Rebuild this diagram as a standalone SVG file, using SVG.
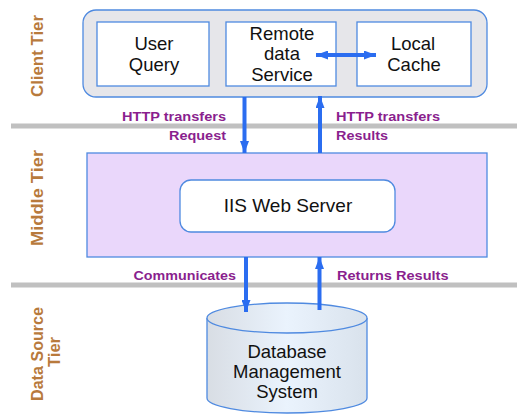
<svg xmlns="http://www.w3.org/2000/svg" width="517" height="419" viewBox="0 0 517 419">
<defs>
<style>
.box{fill:#ffffff;stroke:#4f8ae0;stroke-width:1.3}
.t{font-family:"Liberation Sans",Arial,sans-serif;font-size:18.5px;fill:#111;text-anchor:middle}
.lbl{font-family:"Liberation Sans",Arial,sans-serif;font-size:12px;font-weight:bold;fill:#8a1f8e}
.tier{font-family:"Liberation Sans",Arial,sans-serif;font-size:17px;font-weight:bold;fill:#b87a3c;text-anchor:middle}
.sep{stroke:#c0c0c0;stroke-width:5}
.arr{stroke:#2b6df0;stroke-width:4;fill:none}
</style>
<marker id="ah" viewBox="0 0 12 9" refX="12" refY="4.5" markerWidth="3" markerHeight="2.25" markerUnits="strokeWidth" orient="auto-start-reverse">
<path d="M0,0 L12,4.5 L0,9 z" fill="#2b6df0"/>
</marker>
<linearGradient id="cyl" x1="0" x2="1" y1="0" y2="0">
<stop offset="0" stop-color="#d8dde4"/>
<stop offset="0.5" stop-color="#eaf3fd"/>
<stop offset="1" stop-color="#d9e2ec"/>
</linearGradient>
</defs>
<rect width="517" height="419" fill="#ffffff"/>
<g id="separators">
<line class="sep" x1="11" y1="126" x2="517" y2="126"/>
<line class="sep" x1="11" y1="285" x2="517" y2="285"/>
</g>
<g id="tier-labels">
<text class="tier" transform="translate(43,56) rotate(-90)" textLength="82" lengthAdjust="spacingAndGlyphs">Client Tier</text>
<text class="tier" transform="translate(43,198) rotate(-90)" textLength="96" lengthAdjust="spacingAndGlyphs">Middle Tier</text>
<text class="tier" transform="translate(43,354) rotate(-90)" textLength="94" lengthAdjust="spacingAndGlyphs">Data Source</text>
<text class="tier" transform="translate(60,352) rotate(-90)" textLength="30" lengthAdjust="spacingAndGlyphs">Tier</text>
</g>
<g id="client-tier">
<rect x="83" y="10" width="404" height="87" rx="13" fill="#e6e6ea" stroke="#4f8ae0" stroke-width="1.3"/>
</g>
<g id="user-query">
<rect class="box" x="97" y="22" width="112" height="64"/>
<text class="t" x="154" y="50">User</text>
<text class="t" x="154" y="71">Query</text>
</g>
<g id="remote-data-service">
<rect class="box" x="226" y="22" width="110" height="64"/>
<text class="t" x="282" y="40">Remote</text>
<text class="t" x="282" y="60">data</text>
<text class="t" x="282" y="81">Service</text>
</g>
<g id="local-cache">
<rect class="box" x="357" y="22" width="114" height="64"/>
<text class="t" x="413" y="50">Local</text>
<text class="t" x="414" y="71">Cache</text>
</g>
<g id="middle-tier">
<rect x="87" y="153" width="400" height="104" fill="#ead7fb" stroke="#4f8ae0" stroke-width="1.3"/>
</g>
<g id="iis-web-server">
<rect class="box" x="180" y="180" width="215" height="52" rx="11"/>
<text class="t" x="288" y="212" style="font-size:19px">IIS Web Server</text>
</g>
<g id="database">
<path d="M207,318 L207,398 A80,15 0 0 0 367,398 L367,318" fill="url(#cyl)" stroke="#4f8ae0" stroke-width="1.3"/>
<ellipse cx="287" cy="318" rx="80" ry="15" fill="url(#cyl)" stroke="#4f8ae0" stroke-width="1.3"/>
<text class="t" x="287" y="358">Database</text>
<text class="t" x="287" y="378">Management</text>
<text class="t" x="287" y="398">System</text>
</g>
<g id="connectors">
<line class="arr" x1="316" y1="55" x2="376" y2="55" marker-start="url(#ah)" marker-end="url(#ah)"/>
<line class="arr" x1="244.5" y1="97" x2="244.5" y2="153" marker-end="url(#ah)"/>
<line class="arr" x1="320" y1="153" x2="320" y2="96" marker-end="url(#ah)"/>
<line class="arr" x1="246" y1="257" x2="246" y2="312" marker-end="url(#ah)"/>
<line class="arr" x1="319.5" y1="310" x2="319.5" y2="257" marker-end="url(#ah)"/>
</g>
<g id="connector-labels">
<text class="lbl" x="122" y="121" textLength="104" lengthAdjust="spacingAndGlyphs">HTTP transfers</text>
<text class="lbl" x="169" y="139.5" textLength="57" lengthAdjust="spacingAndGlyphs">Request</text>
<text class="lbl" x="336" y="121" textLength="104" lengthAdjust="spacingAndGlyphs">HTTP transfers</text>
<text class="lbl" x="336" y="139.5" textLength="52" lengthAdjust="spacingAndGlyphs">Results</text>
<text class="lbl" x="133.5" y="280" textLength="102.5" lengthAdjust="spacingAndGlyphs">Communicates</text>
<text class="lbl" x="337" y="280" textLength="111.5" lengthAdjust="spacingAndGlyphs">Returns Results</text>
</g>
</svg>
